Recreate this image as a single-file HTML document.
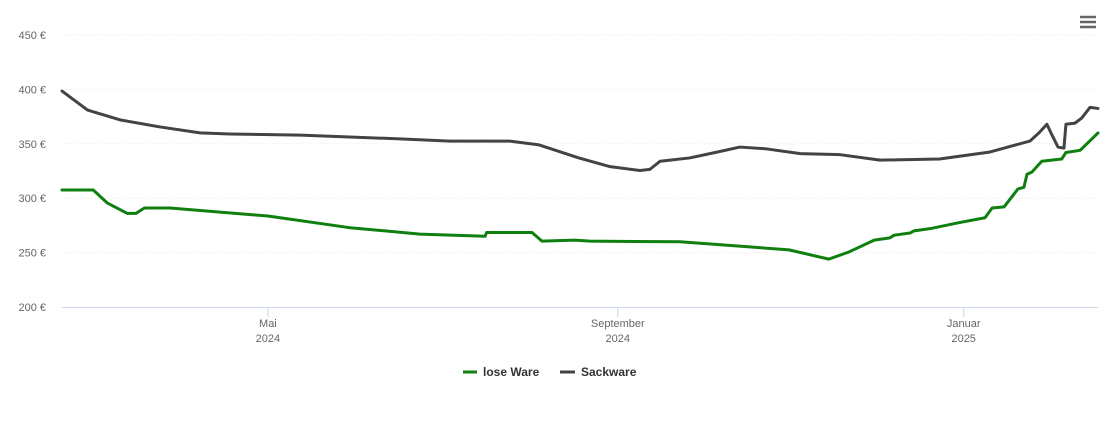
<!DOCTYPE html>
<html><head><meta charset="utf-8"><style>
body{margin:0;background:#fff;font-family:"Liberation Sans",sans-serif;}
svg{display:block}
</style></head><body>
<svg id="chart" width="1110" height="422">
<g id="grid"></g><g id="axes"></g><g id="series"></g>
<g>
 <g>
  <line x1="463" y1="372" x2="477" y2="372" stroke="#0f7f0f" stroke-width="3"/>
  <text x="483" y="376" font-size="12" font-weight="bold" fill="#333">lose Ware</text>
 </g>
 <g>
  <line x1="560" y1="372" x2="575" y2="372" stroke="#434343" stroke-width="3"/>
  <text x="581" y="376" font-size="12" font-weight="bold" fill="#333">Sackware</text>
 </g>
</g>
<g stroke="#666" stroke-width="2.5">
 <line x1="1080" y1="17" x2="1096" y2="17"/><line x1="1080" y1="22" x2="1096" y2="22"/><line x1="1080" y1="27" x2="1096" y2="27"/>
</g>
</svg>
<script>
const yTicks=[200,250,300,350,400,450];
const xTickDays=[72.5,195.7,317.5];
const xTickLabels=[["Mai","2024"],["September","2024"],["Januar","2025"]];
const looseDays=[0,11,16,23,26,29,38,72.5,101,126,149,149.5,165.5,169,180.6,186,217.6,256,270,277,286,291.5,293,298.6,300,305.6,316,325,327.5,331.7,336.6,338.7,339.8,341.5,345,352,353.5,358.5,364.8];
const looseValues=[307.5,307.5,295.5,286,286,291,291,283.6,273,267,265,268.5,268.5,260.5,261.5,260.5,260,252.5,244,250.5,261.5,263.5,266,268,270,272,277.6,282,291,292,308.5,310,322,324,334,336,342,344,360];
const sackDays=[0,9,20.4,34.5,48.6,59,84,119,136.6,157.7,168,182,193,203.5,207,210.6,221,230,238.7,247.5,260,274,288,309,326.8,340.8,344,346.8,348.6,350.7,352.8,353.5,356.7,359,362,364.8];
const sackValues=[398.5,381,372,365.5,360,359,358,354.5,352.5,352.5,349,337,329,325.5,326.5,334,337,342,347,345.5,341,340,335,336,342.5,352.5,360,368,358,347,346,368,369,373.5,383.5,382.5];
const X=d=>62+d*2.84, Y=v=>307-(v-200)*1.088;
const NS="http://www.w3.org/2000/svg";
function mk(tag,attrs,parent,txt){const e=document.createElementNS(NS,tag);for(const k in attrs)e.setAttribute(k,attrs[k]);if(txt!==undefined)e.textContent=txt;parent.appendChild(e);return e;}
const grid=document.getElementById('grid'),axes=document.getElementById('axes'),series=document.getElementById('series');
yTicks.forEach(v=>{
 if(v>200){const l=mk('line',{x1:62,x2:1098,y1:Y(v),y2:Y(v),stroke:'#e6e6e6','stroke-dasharray':'1,2'},grid);
 
 }
 const t=mk('text',{x:46,y:Y(v)+4,'text-anchor':'end','font-size':11,fill:'#666'},axes,v+' €');
 
 
});
const ax=mk('line',{x1:62,x2:1098,y1:307.5,y2:307.5,stroke:'#ccd6eb'},axes);


xTickDays.forEach((d,i)=>{
 const tk=mk('line',{x1:X(d),x2:X(d),y1:307,y2:317,stroke:'#ccd6eb'},axes);
 
 
 const t=mk('text',{x:X(d),y:327,'text-anchor':'middle','font-size':11,fill:'#666'},axes);
 
 
 mk('tspan',{x:X(d),dy:0},t,xTickLabels[i][0]);
 mk('tspan',{x:X(d),dy:15},t,xTickLabels[i][1]);
});
function line(days,vals,color,name){
 const p=mk('polyline',{points:days.map((d,i)=>X(d)+','+Y(vals[i])).join(' '),fill:'none',stroke:color,'stroke-width':3,'stroke-linejoin':'round','stroke-linecap':'round'},series);
 
 
}
line(sackDays,sackValues,'#434343','series-sackware');
line(looseDays,looseValues,'#0f7f0f','series-lose-ware');
</script>
</body></html>
